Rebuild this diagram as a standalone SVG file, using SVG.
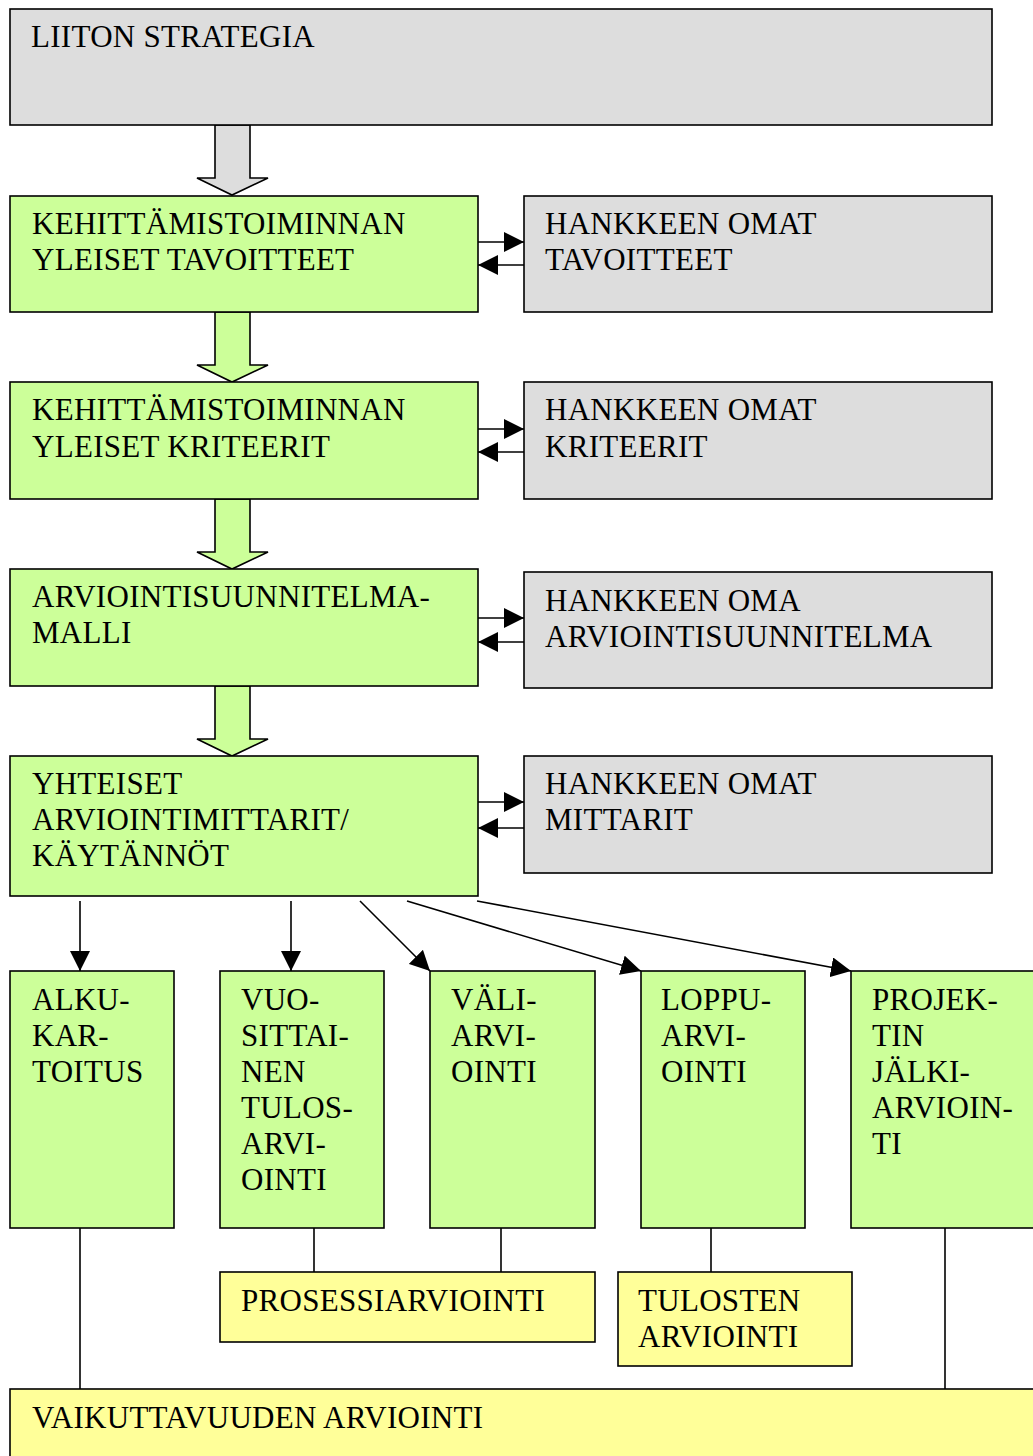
<svg xmlns="http://www.w3.org/2000/svg" width="1033" height="1456" viewBox="0 0 1033 1456">
<style>
.box{stroke:#000;stroke-width:1.6}
.g{fill:#ccff99}
.gr{fill:#dddddd}
.y{fill:#ffff99}
text{font-family:"Liberation Serif","Times New Roman",serif;font-size:31px;letter-spacing:0.3px;fill:#000}
.c{stroke:#000;stroke-width:1.6;fill:none}
.ba{stroke:#000;stroke-width:1.6}
</style>
<defs>
<marker id="ah" markerUnits="userSpaceOnUse" markerWidth="20" markerHeight="20" refX="20" refY="10" orient="auto" viewBox="0 0 20 20">
<path d="M0,0 L20,10 L0,20 z" fill="#000"/>
</marker>
</defs>
<rect width="1033" height="1456" fill="#fff"/>

<g id="connectors">
<polygon class="ba gr" points="215,125 250,125 250,178 268,178 232,195 197,178 215,178"/>
<polygon class="ba g" points="215,312 250,312 250,365 268,365 232,382 197,365 215,365"/>
<polygon class="ba g" points="215,499 250,499 250,552 268,552 232,569 197,552 215,552"/>
<polygon class="ba g" points="215,686 250,686 250,739 268,739 232,756 197,739 215,739"/>
<line class="c" x1="478" y1="242" x2="524" y2="242" marker-end="url(#ah)"/>
<line class="c" x1="524" y1="265" x2="478" y2="265" marker-end="url(#ah)"/>
<line class="c" x1="478" y1="429" x2="524" y2="429" marker-end="url(#ah)"/>
<line class="c" x1="524" y1="452" x2="478" y2="452" marker-end="url(#ah)"/>
<line class="c" x1="478" y1="618" x2="524" y2="618" marker-end="url(#ah)"/>
<line class="c" x1="524" y1="642" x2="478" y2="642" marker-end="url(#ah)"/>
<line class="c" x1="478" y1="802" x2="524" y2="802" marker-end="url(#ah)"/>
<line class="c" x1="524" y1="828" x2="478" y2="828" marker-end="url(#ah)"/>
<line class="c" x1="80" y1="901" x2="80" y2="971" marker-end="url(#ah)"/>
<line class="c" x1="291" y1="901" x2="291" y2="971" marker-end="url(#ah)"/>
<line class="c" x1="360" y1="901" x2="430" y2="971" marker-end="url(#ah)"/>
<line class="c" x1="407" y1="901" x2="641" y2="971" marker-end="url(#ah)"/>
<line class="c" x1="477" y1="901" x2="851" y2="971" marker-end="url(#ah)"/>
<line class="c" x1="80" y1="1228" x2="80" y2="1389"/>
<line class="c" x1="314" y1="1228" x2="314" y2="1272"/>
<line class="c" x1="501" y1="1228" x2="501" y2="1272"/>
<line class="c" x1="711" y1="1228" x2="711" y2="1272"/>
<line class="c" x1="945" y1="1228" x2="945" y2="1389"/>
</g>

<g id="strategia">
<rect class="box gr" x="10" y="9" width="982" height="116"/>
<text x="31" y="47">LIITON STRATEGIA</text>
</g>

<g id="yleiset-tavoitteet">
<rect class="box g" x="10" y="196" width="468" height="116"/>
<text x="32" y="234">KEHITTÄMISTOIMINNAN</text>
<text x="32" y="270">YLEISET TAVOITTEET</text>
</g>
<g id="omat-tavoitteet">
<rect class="box gr" x="524" y="196" width="468" height="116"/>
<text x="545" y="234">HANKKEEN OMAT</text>
<text x="545" y="270">TAVOITTEET</text>
</g>

<g id="yleiset-kriteerit">
<rect class="box g" x="10" y="382" width="468" height="117"/>
<text x="32" y="420">KEHITTÄMISTOIMINNAN</text>
<text x="32" y="457">YLEISET KRITEERIT</text>
</g>
<g id="omat-kriteerit">
<rect class="box gr" x="524" y="382" width="468" height="117"/>
<text x="545" y="420">HANKKEEN OMAT</text>
<text x="545" y="457">KRITEERIT</text>
</g>

<g id="suunnitelmamalli">
<rect class="box g" x="10" y="569" width="468" height="117"/>
<text x="32" y="607">ARVIOINTISUUNNITELMA-</text>
<text x="32" y="643">MALLI</text>
</g>
<g id="oma-suunnitelma">
<rect class="box gr" x="524" y="572" width="468" height="116"/>
<text x="545" y="611">HANKKEEN OMA</text>
<text x="545" y="647">ARVIOINTISUUNNITELMA</text>
</g>

<g id="yhteiset-mittarit">
<rect class="box g" x="10" y="756" width="468" height="140"/>
<text x="32" y="794">YHTEISET</text>
<text x="32" y="830">ARVIOINTIMITTARIT/</text>
<text x="32" y="866">KÄYTÄNNÖT</text>
</g>
<g id="omat-mittarit">
<rect class="box gr" x="524" y="756" width="468" height="117"/>
<text x="545" y="794">HANKKEEN OMAT</text>
<text x="545" y="830">MITTARIT</text>
</g>

<g id="alkukartoitus">
<rect class="box g" x="10" y="971" width="164" height="257"/>
<text x="32" y="1010">ALKU-</text>
<text x="32" y="1046">KAR-</text>
<text x="32" y="1082">TOITUS</text>
</g>
<g id="vuosittainen">
<rect class="box g" x="220" y="971" width="164" height="257"/>
<text x="241" y="1010">VUO-</text>
<text x="241" y="1046">SITTAI-</text>
<text x="241" y="1082">NEN</text>
<text x="241" y="1118">TULOS-</text>
<text x="241" y="1154">ARVI-</text>
<text x="241" y="1190">OINTI</text>
</g>
<g id="valiarviointi">
<rect class="box g" x="430" y="971" width="165" height="257"/>
<text x="451" y="1010">VÄLI-</text>
<text x="451" y="1046">ARVI-</text>
<text x="451" y="1082">OINTI</text>
</g>
<g id="loppuarviointi">
<rect class="box g" x="641" y="971" width="164" height="257"/>
<text x="661" y="1010">LOPPU-</text>
<text x="661" y="1046">ARVI-</text>
<text x="661" y="1082">OINTI</text>
</g>
<g id="jalkiarviointi">
<rect class="box g" x="851" y="971" width="200" height="257"/>
<text x="872" y="1010">PROJEK-</text>
<text x="872" y="1046">TIN</text>
<text x="872" y="1082">JÄLKI-</text>
<text x="872" y="1118">ARVIOIN-</text>
<text x="872" y="1154">TI</text>
</g>

<g id="prosessiarviointi">
<rect class="box y" x="220" y="1272" width="375" height="70"/>
<text x="241" y="1311">PROSESSIARVIOINTI</text>
</g>
<g id="tulosten-arviointi">
<rect class="box y" x="618" y="1272" width="234" height="94"/>
<text x="638" y="1311">TULOSTEN</text>
<text x="638" y="1347">ARVIOINTI</text>
</g>
<g id="vaikuttavuus">
<rect class="box y" x="10" y="1389" width="1040" height="80"/>
<text x="32" y="1428">VAIKUTTAVUUDEN ARVIOINTI</text>
</g>
</svg>
